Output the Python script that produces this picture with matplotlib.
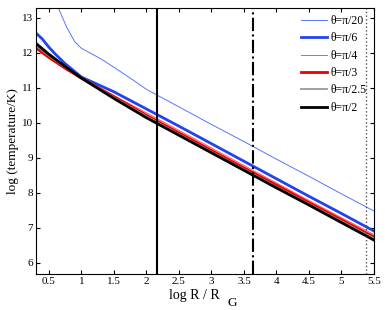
import numpy as np
import matplotlib
matplotlib.use("Agg")
import matplotlib.pyplot as plt

plt.rcParams["font.family"] = ["Liberation Serif", "DejaVu Serif"]
plt.rcParams["mathtext.fontset"] = "stix"

# ---- curves ---------------------------------------------------------------
x_std = [0.3, 0.5, 0.75, 1.0, 1.5, 2.0, 2.5, 3.0, 3.5, 4.0, 4.5, 5.0, 5.5]

x_pi20 = [0.3, 0.5, 0.65, 0.77, 0.9, 1.0, 1.15, 1.3, 1.5, 1.8, 2.0,
          2.5, 3.0, 3.5, 4.0, 4.5, 5.0, 5.5]
y_pi20 = [14.4, 13.75, 13.25, 12.73, 12.3, 12.12, 11.97, 11.82, 11.58, 11.21,
          10.95, 10.45, 9.95, 9.46, 8.96, 8.47, 7.97, 7.48]

x_pi6 = [0.3, 0.4, 0.5, 0.6, 0.75, 1.0, 1.5, 2.0, 2.5, 3.0, 3.5, 4.0, 4.5, 5.0, 5.5]
y_pi6 = [12.56, 12.38, 12.15, 11.95, 11.68, 11.3, 10.88, 10.39, 9.9, 9.4,
         8.9, 8.4, 7.9, 7.41, 6.91]

y_pi4 = [12.18, 11.9, 11.57, 11.28, 10.77, 10.28, 9.78, 9.28, 8.78, 8.28, 7.78, 7.29, 6.81]
y_pi3 = [12.13, 11.86, 11.55, 11.27, 10.74, 10.21, 9.71, 9.21, 8.71, 8.22, 7.72, 7.23, 6.74]
y_pi25 = [12.2, 11.91, 11.58, 11.27, 10.72, 10.18, 9.67, 9.17, 8.67, 8.17, 7.68, 7.19, 6.70]
y_pi2 = [12.26, 11.95, 11.6, 11.27, 10.69, 10.14, 9.64, 9.14, 8.64, 8.14, 7.65, 7.15, 6.65]

# vertical markers (log R / R_G)
v_solid, v_dashdot, v_dotted = 2.166, 3.64, 5.377

fig = plt.figure(figsize=(3.85, 3.10), dpi=100)
ax = fig.add_axes([0.0935, 0.116, 0.8775, 0.858])

ax.plot(x_pi20, y_pi20, color="#5577ff", lw=0.7, label=r"θ=π/20")
ax.plot(x_pi6, y_pi6, color="#2244ee", lw=2.0, label=r"θ=π/6")
ax.plot(x_std, y_pi4, color="#ff5555", lw=0.7, label=r"θ=π/4")
ax.plot(x_std, y_pi3, color="#ee0000", lw=2.0, label=r"θ=π/3")
ax.plot(x_std, y_pi25, color="#999999", lw=1.3, label=r"θ=π/2.5")
ax.plot(x_std, y_pi2, color="black", lw=2.0, label=r"θ=π/2")

ax.axvline(v_solid, color="black", lw=1.5)
ax.axvline(v_dashdot, color="black", lw=1.5, ls="-.")
ax.axvline(v_dotted, color="#555555", lw=1.0, ls=":")

ax.set_xlim(0.3, 5.5)
ax.set_ylim(5.68, 13.27)
ax.set_xticks(np.arange(0.5, 5.51, 0.5))
ax.set_xticklabels(["0.5", "1", "1.5", "2", "2.5", "3", "3.5", "4", "4.5", "5", "5.5"])
ax.set_yticks(range(6, 14))
ax.tick_params(direction="in", top=True, right=True, labelsize=8, length=3, pad=2)

ax.set_ylabel("log (temperature/K)", fontsize=9.5, labelpad=2)
# x label with a big, low subscript G as in the original
fig.text(0.44, 0.035, "log R / R", fontsize=10, ha="left", va="baseline")
fig.text(0.592, 0.012, "G", fontsize=9.5, ha="left", va="baseline")

ax.legend(loc="upper right", frameon=False, fontsize=8.5, handlelength=2.2,
          handletextpad=0.3, labelspacing=0.45, borderaxespad=0.2)

fig.savefig("out.png", dpi=100)
